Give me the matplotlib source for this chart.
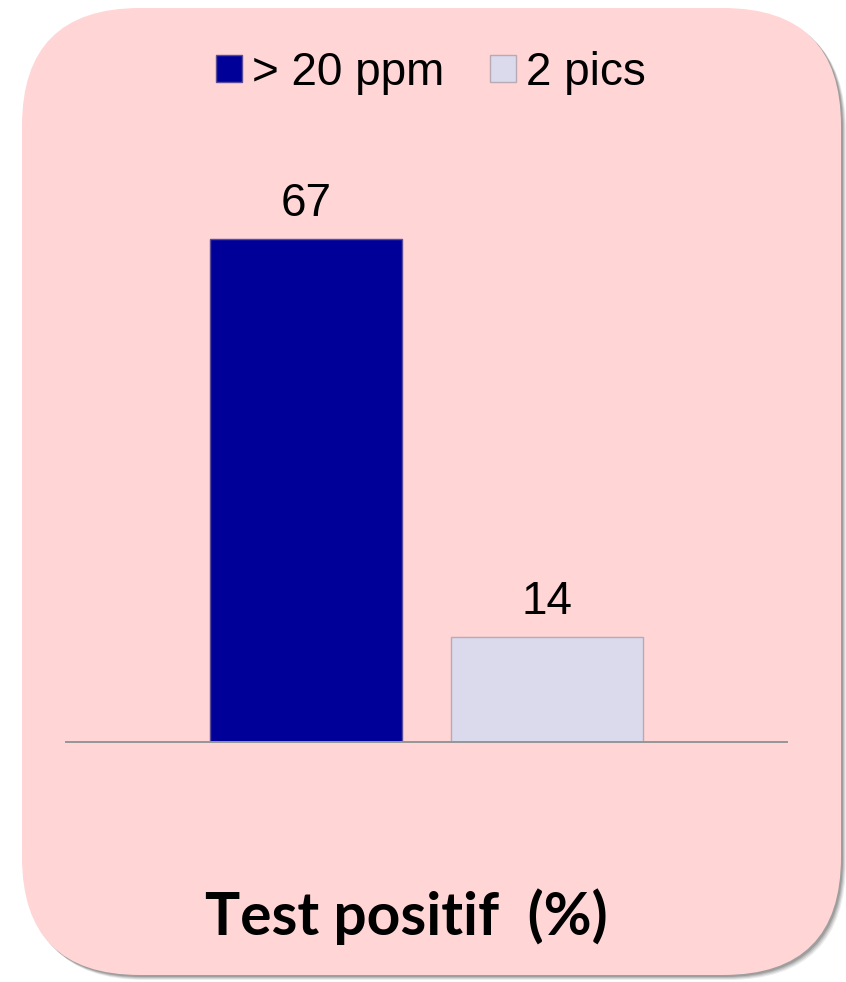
import matplotlib
matplotlib.use("Agg")
import matplotlib.pyplot as plt
from matplotlib.patches import FancyBboxPatch, Patch

# Data
categories = ["Test positif  (%)"]
series_names = ["> 20 ppm", "2 pics"]
series_values = [[67], [14]]
series_colors = ["#000099", "#DADAEC"]
series_edges = ["#5B4C9A", "#B8AAB4"]

W, H = 846, 982
fig = plt.figure(figsize=(W / 100, H / 100), dpi=100)
fig.patch.set_facecolor("white")

# Rounded pink panel with a soft drop shadow, drawn in pixel space
bg = fig.add_axes([0, 0, 1, 1], zorder=0)
bg.set_xlim(0, W)
bg.set_ylim(H, 0)
bg.axis("off")
x0, y0, x1, y1 = 22, 8, 841, 975
r = 118
for k, a in enumerate([0.10, 0.14, 0.18, 0.25]):
    off = 5 - k
    bg.add_patch(FancyBboxPatch((x0 + off, y0 + off), x1 - x0, y1 - y0,
                                boxstyle=f"round,pad=0,rounding_size={r}",
                                facecolor="#4a4a4a", edgecolor="none", alpha=a))
bg.add_patch(FancyBboxPatch((x0, y0), x1 - x0, y1 - y0,
                            boxstyle=f"round,pad=0,rounding_size={r}",
                            facecolor="#FFD5D5", edgecolor="none"))

# Bar chart axes
ax_left, ax_right = 66, 787
base_y, top_y = 742, 141.4
ax = fig.add_axes([ax_left / W, (H - base_y) / H, (ax_right - ax_left) / W,
                   (base_y - top_y) / H], zorder=1)
ax.patch.set_alpha(0)
ax.set_xlim(-1.5, 1.5)
ax.set_ylim(0, 80)

n = len(series_names)
width = 0.8
for i, (name, vals, fc, ec) in enumerate(zip(series_names, series_values,
                                             series_colors, series_edges)):
    xs = [c + (i - (n - 1) / 2) for c in range(len(categories))]
    bars = ax.bar(xs, vals, width=width, color=fc, edgecolor=ec, linewidth=1.0,
                  label=name, zorder=2)
    ax.bar_label(bars, labels=[str(v) for v in vals], padding=9,
                 fontsize=33, family=["Liberation Sans", "DejaVu Sans"],
                 color="black")

for s in ["top", "right", "left"]:
    ax.spines[s].set_visible(False)
ax.spines["bottom"].set_color("#969696")
ax.spines["bottom"].set_linewidth(1.4)
ax.spines["bottom"].set_zorder(3)
ax.set_xticks([])
ax.set_yticks([])

# Category label below the plot
fig.text(406.7 / W, 1 - 935 / H, categories[0], ha="center", va="baseline",
         fontsize=42.2, fontweight="bold", family=["Lato", "DejaVu Sans"],
         color="black")

# Legend on top
handles = [Patch(facecolor=fc, edgecolor=ec, linewidth=1.0)
           for fc, ec in zip(series_colors, series_edges)]
fig.legend(handles, series_names, loc="center",
           bbox_to_anchor=(431 / W, 1 - 73 / H), ncol=2, frameon=False,
           prop={"family": ["Liberation Sans", "DejaVu Sans"], "size": 33},
           handlelength=0.56, handleheight=0.54, handletextpad=0.22,
           columnspacing=1.0, borderpad=0, borderaxespad=0)

fig.savefig("out.png", dpi=100, facecolor="white")
